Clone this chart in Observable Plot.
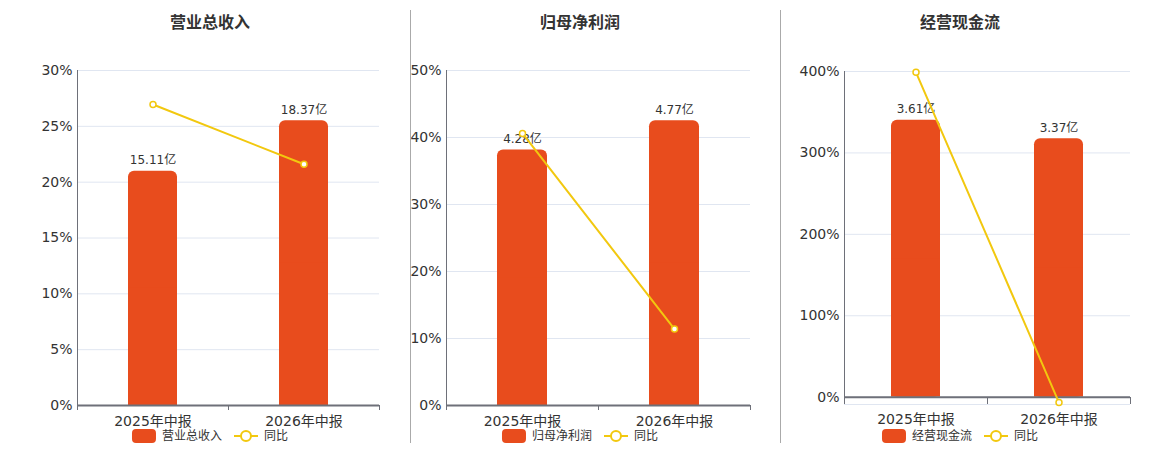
<!DOCTYPE html>
<html>
<head>
<meta charset="utf-8">
<script src="https://cdn.jsdelivr.net/npm/d3@7"></script>
<script src="https://cdn.jsdelivr.net/npm/@observablehq/plot@0.6"></script>
<style>
  html, body { margin: 0; padding: 0; background: #fff; }
  #root { position: relative; width: 1160px; height: 450px; overflow: hidden;
          font-family: "DejaVu Sans", "Noto Sans CJK SC", sans-serif; color: #333; }
  .panel { position: absolute; top: 50px; }
  .title { position: absolute; top: 13px; transform: translateX(-50%); font-size: 16px; font-weight: bold;
           line-height: 20px; white-space: nowrap; color: #333; }
  .legend { position: absolute; top: 429px; transform: translateX(-50%); display: flex; align-items: center;
            font-size: 12px; line-height: 14px; white-space: nowrap; color: #333; }
  .sw-bar { width: 24px; height: 14px; border-radius: 4px; margin-right: 6px; }
  .sep { position: absolute; top: 10px; width: 1px; height: 433px; background: #aaa; }
</style>
</head>
<body>
<div id="root"></div>
<script>
// ---- data ----
const periods = ["2025年中报", "2026年中报"];
const titles = ["营业总收入", "归母净利润", "经营现金流"];
const yoyName = "同比";
const revenue = [15.11, 18.37];
const revenueYoY = [26.96, 21.6];
const profit = [4.28, 4.77];
const profitYoY = [40.6, 11.4];
const cashflow = [3.61, 3.37];
const cashflowYoY = [399, -6.6];
const ticksRevenue = [0, 5, 10, 15, 20, 25, 30];
const ticksProfit = [0, 10, 20, 30, 40, 50];
const ticksCash = [0, 100, 200, 300, 400];

const BAR = "#e84c1d";
const LINE = "#f2c80f";
const AXIS = "#6e7079";
const GRID = "#e0e6f1";

const root = document.getElementById("root");

const panels = [
  {title: titles[0], values: revenue, yoy: revenueYoY, ticks: ticksRevenue, min: 0,
   left: 0, width: 400, ml: 77, mr: 21, mt: 20, mb: 25, center: 210, barW: 49},
  {title: titles[1], values: profit, yoy: profitYoY, ticks: ticksProfit, min: 0,
   left: 400, width: 380, ml: 46, mr: 30, mt: 20, mb: 25, center: 580, barW: 50},
  {title: titles[2], values: cashflow, yoy: cashflowYoY, ticks: ticksCash, min: -9,
   left: 780, width: 380, ml: 64, mr: 30, mt: 21, mb: 26, center: 960, barW: 49}
];

function drawPanel(cfg) {
  const top = d3.max(cfg.ticks);
  const barMax = d3.max(cfg.values) / 0.85;
  const data = periods.map((p, i) => ({
    p,
    v: cfg.values[i],
    s: cfg.values[i] / barMax * top,
    yoy: cfg.yoy[i],
    label: cfg.values[i].toFixed(2) + "亿"
  }));
  const H = 380;
  const bw = (cfg.width - cfg.ml - cfg.mr) / periods.length;
  const inset = (bw - cfg.barW) / 2;
  const gridTicks = cfg.min < 0 ? [cfg.min, ...cfg.ticks] : cfg.ticks;
  const below = cfg.min < 0;

  const chart = Plot.plot({
    width: cfg.width,
    height: H,
    marginLeft: cfg.ml,
    marginRight: cfg.mr,
    marginTop: cfg.mt,
    marginBottom: cfg.mb,
    style: {fontFamily: '"DejaVu Sans", "Noto Sans CJK SC", sans-serif', fontSize: "14px", color: "#333", background: "transparent", overflow: "visible"},
    x: {domain: periods, padding: 0, axis: null},
    y: {domain: [cfg.min, top], axis: null},
    marks: [
      Plot.gridY(gridTicks, {stroke: GRID, strokeOpacity: 1}),
      Plot.barY(data, {x: "p", y: "s", fill: BAR, rx: 6, insetLeft: inset, insetRight: inset}),
      Plot.barY(data, {x: "p", y1: 0, y2: d => d.s / 2, fill: BAR, insetLeft: inset, insetRight: inset}),
      Plot.text(data, {x: "p", y: "s", text: "label", dy: -11, fontSize: 12, fill: "#333"}),
      Plot.ruleX([periods[0]], {dx: -bw / 2, stroke: AXIS, strokeWidth: 1}),
      Plot.axisY(cfg.ticks, {tickSize: 0, tickPadding: 5, tickFormat: d => d + "%", fontSize: 14, fill: "#333", label: null}),
      Plot.ruleY([0], {stroke: AXIS, strokeWidth: 2}),
      Plot.axisX(periods, {tickSize: below ? 7 : 5, dy: below ? -7 : 0, dx: -bw / 2, tickFormat: () => "", stroke: AXIS, label: null}),
      Plot.axisX([periods[periods.length - 1]], {tickSize: below ? 7 : 5, dy: below ? -7 : 0, dx: bw / 2, tickFormat: () => "", stroke: AXIS, label: null}),
      Plot.axisX(periods, {tickSize: 0, tickPadding: below ? 10 : 11, fontSize: 14, fill: "#333", label: null}),
      Plot.line(data, {x: "p", y: "yoy", stroke: LINE, strokeWidth: 2}),
      Plot.dot(data, {x: "p", y: "yoy", r: 3, fill: "#fff", stroke: LINE, strokeWidth: 1.5})
    ]
  });

  const wrap = document.createElement("div");
  wrap.className = "panel";
  wrap.style.left = cfg.left + "px";
  wrap.appendChild(chart);
  root.appendChild(wrap);

  const t = document.createElement("div");
  t.className = "title";
  t.style.left = cfg.center + "px";
  t.textContent = cfg.title;
  root.appendChild(t);

  const lg = document.createElement("div");
  lg.className = "legend";
  lg.style.left = cfg.center + "px";
  lg.innerHTML =
    `<span class="sw-bar" style="background:${BAR}"></span><span>${cfg.title}</span>` +
    `<svg width="24" height="14" style="margin-left:12px;margin-right:6px;overflow:visible">` +
    `<line x1="0" y1="7" x2="24" y2="7" stroke="${LINE}" stroke-width="2"/>` +
    `<circle cx="12" cy="7" r="5" fill="#fff" stroke="${LINE}" stroke-width="2"/></svg>` +
    `<span>${yoyName}</span>`;
  root.appendChild(lg);
}

panels.forEach(drawPanel);

[410, 780].forEach(x => {
  const s = document.createElement("div");
  s.className = "sep";
  s.style.left = x + "px";
  root.appendChild(s);
});
</script>
</body>
</html>
